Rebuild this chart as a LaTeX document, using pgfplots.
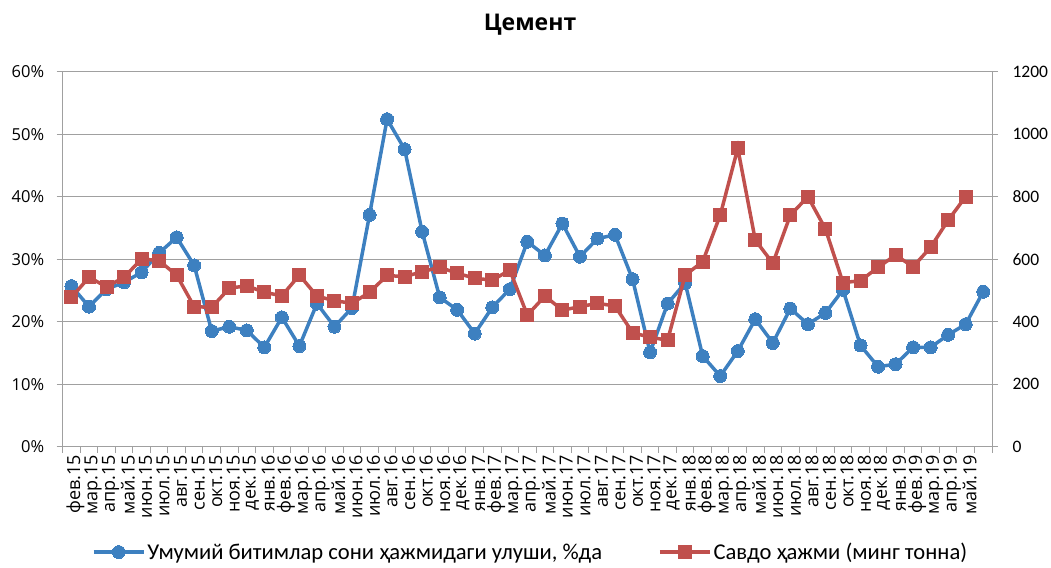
\documentclass[border=0pt]{standalone}
\usepackage{fontspec}
\setmainfont{Carlito}
\newfontfamily\opensans{Open Sans}
\usepackage{pgfplots}
\pgfplotsset{compat=1.18}
\definecolor{cblue}{HTML}{3D80C0}
\definecolor{cred}{HTML}{C0504D}
\definecolor{cgrid}{HTML}{A0A0A0}
\begin{document}
\begin{tikzpicture}
\useasboundingbox (-62.7pt,-120.3pt) rectangle (988.3pt,446.7pt);
\pgfplotsset{
  common/.style={
    at={(0pt,0pt)}, anchor=south west, scale only axis,
    width=929.3pt, height=375pt,
    xmin=-0.5, xmax=52.5,
    /pgf/number format/assume math mode=true,
    /pgf/number format/1000 sep={},
    axis line style={cgrid, line width=1pt},
    tick style={cgrid, line width=1pt},
    tick align=outside, major tick length=6pt,
  },
  legend image code/.code={\draw[mark repeat=2,mark phase=2,#1] plot coordinates {(0pt,0pt) (25pt,0pt) (50pt,0pt)};},
}
\begin{axis}[common,
  ymin=0, ymax=60,
  ytick={0,10,...,60},
  yticklabel={\pgfmathprintnumber{\tick}\%},
  yticklabel style={font=\opensans\fontsize{16.5}{16.5}\selectfont, xshift=-9pt},
  ytick pos=left,
  ymajorgrids, grid style={cgrid, line width=1pt},
  xtick={-0.5,0.5,...,52.5},
  x tick label as interval,
  xtick pos=bottom,
  xticklabels={фев.15,мар.15,апр.15,май.15,июн.15,июл.15,авг.15,сен.15,окт.15,ноя.15,дек.15,
    янв.16,фев.16,мар.16,апр.16,май.16,июн.16,июл.16,авг.16,сен.16,окт.16,ноя.16,дек.16,
    янв.17,фев.17,мар.17,апр.17,май.17,июн.17,июл.17,авг.17,сен.17,окт.17,ноя.17,дек.17,
    янв.18,фев.18,мар.18,апр.18,май.18,июн.18,июл.18,авг.18,сен.18,окт.18,ноя.18,дек.18,
    янв.19,фев.19,мар.19,апр.19,май.19,{}},
  xticklabel style={rotate=90, anchor=east, font=\opensans\fontsize{18}{18}\selectfont, inner sep=2pt, yshift=-4pt},
]
\addplot[cblue, line width=3.5pt, mark=*, mark size=6.5pt, mark options={fill=cblue, draw=cblue, line width=0pt}] coordinates {
(0,25.7) (1,22.4) (2,25.2) (3,26.3) (4,27.9) (5,31.0) (6,33.5) (7,29.0) (8,18.5) (9,19.2)
(10,18.6) (11,15.9) (12,20.7) (13,16.1) (14,22.9) (15,19.2) (16,22.2) (17,37.1) (18,52.4) (19,47.6)
(20,34.4) (21,23.9) (22,21.9) (23,18.1) (24,22.3) (25,25.2) (26,32.8) (27,30.6) (28,35.7) (29,30.4)
(30,33.3) (31,33.9) (32,26.8) (33,15.1) (34,22.9) (35,26.2) (36,14.5) (37,11.3) (38,15.3) (39,20.4)
(40,16.6) (41,22.1) (42,19.6) (43,21.4) (44,25.1) (45,16.2) (46,12.8) (47,13.2) (48,15.9) (49,15.9)
(50,17.9) (51,19.6) (52,24.8)
};
\end{axis}
\begin{axis}[common,
  ymin=0, ymax=1200,
  ytick={0,200,...,1200},
  ytick pos=right,
  yticklabel style={font=\fontsize{17.5}{17.5}\selectfont, xshift=11pt},
  axis x line=none,
  axis y line*=right,
  legend columns=2,
  legend style={at={(0.5035,-0.281)}, anchor=center, draw=none, fill=none,
    font=\fontsize{22.6}{22.6}\selectfont,
    /tikz/every even column/.append style={column sep=54pt}},
]
\addlegendimage{cblue, line width=3.5pt, mark=*, mark size=6.5pt, mark options={fill=cblue, draw=cblue, line width=0pt}}
\addlegendentry{Умумий битимлар сони ҳажмидаги улуши, \%да}
\addplot[cred, line width=3.5pt, mark=square*, mark size=6.5pt, mark options={fill=cred, draw=cred, line width=0pt}] coordinates {
(0,478) (1,542) (2,512) (3,542) (4,601) (5,595) (6,549) (7,448) (8,446) (9,507)
(10,515) (11,494) (12,483) (13,549) (14,482) (15,467) (16,459) (17,494) (18,548) (19,544)
(20,560) (21,574) (22,555) (23,539) (24,533) (25,565) (26,421) (27,482) (28,437) (29,448)
(30,459) (31,450) (32,365) (33,350) (34,341) (35,549) (36,592) (37,741) (38,955) (39,661)
(40,587) (41,741) (42,800) (43,697) (44,525) (45,531) (46,574) (47,613) (48,576) (49,638)
(50,725) (51,800)
};
\addlegendentry{Савдо ҳажми (минг тонна)}
\end{axis}
\node at (467.3pt,421.7pt) {\opensans\fontsize{23}{27}\selectfont\bfseries Цемент};
\end{tikzpicture}
\end{document}
